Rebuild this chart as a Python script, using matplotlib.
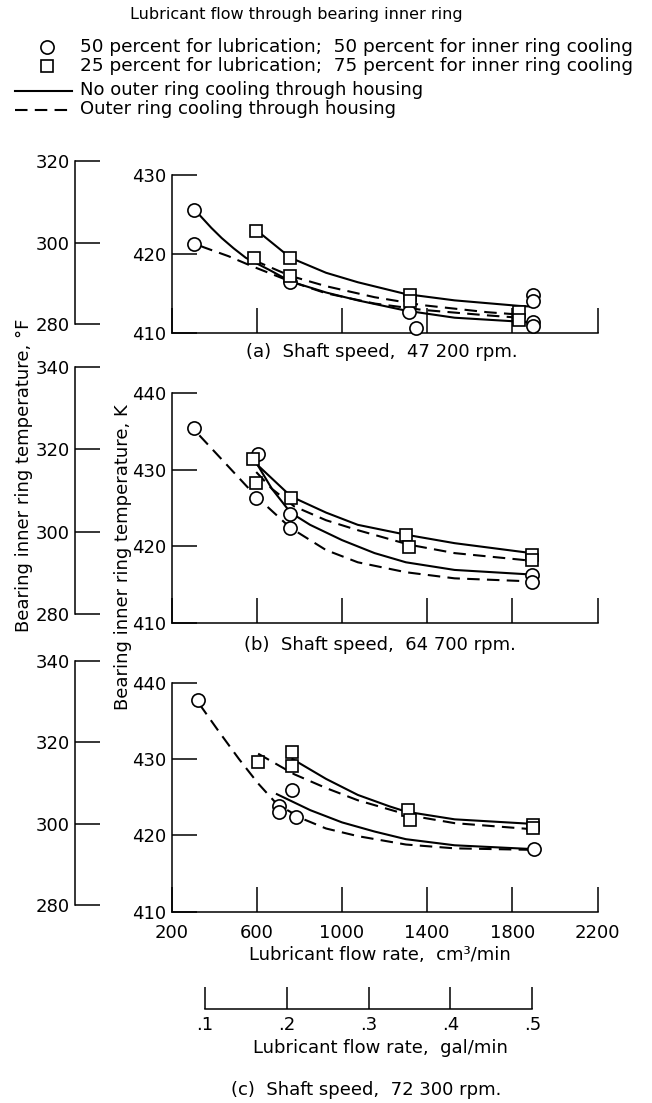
# Bearing inner ring temperature vs lubricant flow rate (3 shaft speeds)
import numpy as np
import matplotlib.pyplot as plt
from matplotlib.lines import Line2D

W, H = 652, 1103                      # 出力サイズ [px]
FONT = ['Liberation Sans Narrow', 'DejaVu Sans']
plt.rcParams['font.family'] = FONT

LW = 1.5                              # 曲線の太さ
DASH = (6, 3.5)
TXT = 13

# ---- (a) 47 200 rpm ----
A_CIRC_X = [305, 305, 758, 1313, 1348, 1897, 1897, 1897, 1897]
A_CIRC_Y = [425.5, 421.3, 416.4, 412.6, 410.6, 414.8, 414.0, 411.4, 410.8]
A_SQ_X = [597, 585, 758, 758, 1319, 1319, 1832, 1832]
A_SQ_Y = [422.9, 419.5, 419.5, 417.2, 414.8, 414.0, 412.6, 411.6]
A_CS_X = [335, 386, 435, 491, 548, 663, 758, 925, 1074, 1300, 1529, 1897]
A_CS_Y = [424.8, 423.3, 422.0, 420.7, 419.5, 417.9, 416.5, 415.1, 414.1, 412.8, 411.9, 411.3]
A_CD_X = [335, 354, 467, 580, 758, 925, 1153, 1376, 1682, 1832]
A_CD_Y = [421.0, 420.8, 419.7, 418.4, 416.5, 415.0, 413.7, 412.9, 412.2, 411.9]
A_SS_X = [612, 758, 925, 1074, 1300, 1529, 1832, 1897]
A_SS_Y = [422.7, 419.5, 417.6, 416.4, 414.9, 414.1, 413.4, 413.3]
A_SD_X = [585, 758, 925, 1153, 1376, 1682, 1832]
A_SD_Y = [419.2, 417.2, 415.9, 414.5, 413.5, 412.6, 412.3]

# ---- (b) 64 700 rpm ----
B_CIRC_X = [305, 604, 597, 758, 758, 1893, 1893]
B_CIRC_Y = [435.4, 432.0, 426.3, 424.2, 422.4, 416.3, 415.3]
B_SQ_X = [580, 597, 761, 1302, 1316, 1893, 1893]
B_SQ_Y = [431.4, 428.3, 426.3, 421.5, 419.9, 418.9, 418.2]
B_CD_X = [330, 467, 597, 758, 925, 1074, 1300, 1529, 1890]
B_CD_Y = [434.5, 430.4, 426.5, 422.4, 419.5, 417.9, 416.6, 415.8, 415.4]
B_CS_X = [604, 671, 758, 850, 1000, 1153, 1300, 1529, 1890]
B_CS_Y = [430.6, 427.5, 424.4, 422.8, 420.8, 419.1, 417.9, 416.9, 416.3]
B_SD_X = [597, 671, 776, 925, 1074, 1316, 1529, 1890]
B_SD_Y = [429.7, 427.5, 425.2, 423.4, 422.1, 420.2, 419.1, 418.1]
B_SS_X = [604, 761, 925, 1074, 1302, 1529, 1890]
B_SS_Y = [430.6, 426.5, 424.4, 422.8, 421.5, 420.4, 419.1]

# ---- (c) 72 300 rpm ----
C_CIRC_X = [325, 704, 704, 784, 764, 1902]
C_CIRC_Y = [437.7, 423.9, 423.0, 422.4, 426.0, 418.2]
C_SQ_X = [604, 764, 764, 1308, 1320, 1897, 1897]
C_SQ_Y = [429.6, 430.9, 429.1, 423.3, 422.0, 421.4, 421.0]
C_CD_X = [330, 419, 516, 606, 694, 812, 925, 1074, 1300, 1529, 1897]
C_CD_Y = [437.2, 433.7, 430.0, 426.8, 424.1, 422.2, 420.9, 419.9, 418.8, 418.3, 418.1]
C_CS_X = [694, 851, 1000, 1153, 1300, 1529, 1897]
C_CS_Y = [425.4, 423.3, 421.7, 420.5, 419.5, 418.7, 418.2]
C_SD_X = [606, 776, 925, 1074, 1320, 1529, 1897]
C_SD_Y = [430.7, 428.0, 426.2, 424.6, 422.6, 421.6, 420.8]
C_SS_X = [767, 925, 1074, 1223, 1302, 1529, 1897]
C_SS_Y = [430.0, 427.4, 425.3, 423.8, 423.1, 422.1, 421.5]

X_TICKS = [200, 600, 1000, 1400, 1800, 2200]
GAL_TICKS = [0.1, 0.2, 0.3, 0.4, 0.5]
GAL_LABELS = ['.1', '.2', '.3', '.4', '.5']


def rect(left, right, top, bottom):
    """ピクセル指定 -> figure 座標"""
    return [left / W, 1 - bottom / H, (right - left) / W, (bottom - top) / H]


def fx(px):
    return px / W


def fy(py):
    return 1 - py / H


def panel(fig, pos, ylim, yticks, circ, sq, curves, xlabels=False):
    ax = fig.add_axes(pos)
    ax.set_xlim(200, 2200)
    ax.set_ylim(*ylim)
    ax.set_xticks(X_TICKS)
    ax.set_yticks(yticks)
    if not xlabels:
        ax.set_xticklabels([])
    for s in ['top', 'right']:
        ax.spines[s].set_visible(False)
    for s in ['left', 'bottom']:
        ax.spines[s].set_linewidth(1.1)
    ax.tick_params(direction='in', length=18, width=1.1, labelsize=TXT, pad=4)
    ax.tick_params(axis='x', pad=9)
    ax.patch.set_visible(False)
    for (x, y, ls) in curves:
        ax.plot(x, y, color='black', lw=LW, ls=ls, zorder=2,
                **({'dashes': DASH} if ls == '--' else {}))
    ax.plot(circ[0], circ[1], 'o', ms=9.5, mfc='white', mec='black', mew=1.2,
            ls='none', zorder=3, clip_on=False)
    ax.plot(sq[0], sq[1], 's', ms=8.5, mfc='white', mec='black', mew=1.2,
            ls='none', zorder=3, clip_on=False)
    return ax


def f_axis(fig, top, bottom, lo, hi, ticks):
    ax = fig.add_axes(rect(75, 105, top, bottom))
    ax.set_ylim(lo, hi)
    ax.set_yticks(ticks)
    ax.set_xticks([])
    for s in ['top', 'right', 'bottom']:
        ax.spines[s].set_visible(False)
    ax.spines['left'].set_linewidth(1.1)
    ax.tick_params(direction='in', length=18, width=1.1, labelsize=TXT, pad=4)
    ax.patch.set_visible(False)


def main():
    fig = plt.figure(figsize=(W / 100, H / 100), dpi=100)

    panel(fig, rect(171.7, 597.5, 175, 332.7), (410, 430), [410, 420, 430],
          (A_CIRC_X, A_CIRC_Y), (A_SQ_X, A_SQ_Y),
          [(A_CS_X, A_CS_Y, '-'), (A_CD_X, A_CD_Y, '--'),
           (A_SS_X, A_SS_Y, '-'), (A_SD_X, A_SD_Y, '--')])
    panel(fig, rect(171.7, 597.5, 393.3, 622.7), (410, 440), [410, 420, 430, 440],
          (B_CIRC_X, B_CIRC_Y), (B_SQ_X, B_SQ_Y),
          [(B_CS_X, B_CS_Y, '-'), (B_CD_X, B_CD_Y, '--'),
           (B_SS_X, B_SS_Y, '-'), (B_SD_X, B_SD_Y, '--')])
    panel(fig, rect(171.7, 597.5, 682.7, 911.7), (410, 440), [410, 420, 430, 440],
          (C_CIRC_X, C_CIRC_Y), (C_SQ_X, C_SQ_Y),
          [(C_CS_X, C_CS_Y, '-'), (C_CD_X, C_CD_Y, '--'),
           (C_SS_X, C_SS_Y, '-'), (C_SD_X, C_SD_Y, '--')], xlabels=True)

    # 華氏目盛
    f_axis(fig, 161, 324.3, 280, 320, [280, 300, 320])
    f_axis(fig, 367, 614, 280, 340, [280, 300, 320, 340])
    f_axis(fig, 661, 905, 280, 340, [280, 300, 320, 340])

    # gal/min 目盛
    gx = fig.add_axes(rect(205, 532.3, 970, 1009))
    gx.set_xlim(0.1, 0.5)
    gx.set_xticks(GAL_TICKS)
    gx.set_xticklabels(GAL_LABELS)
    gx.set_yticks([])
    for s in ['top', 'right', 'left']:
        gx.spines[s].set_visible(False)
    gx.spines['bottom'].set_linewidth(1.1)
    gx.tick_params(direction='in', length=16, width=1.1, labelsize=TXT, pad=5)
    gx.patch.set_visible(False)

    # 凡例
    fig.text(fx(296), fy(15), 'Lubricant flow through bearing inner ring',
             ha='center', va='center', fontsize=11.5)
    fig.add_artist(Line2D([fx(47)], [fy(47)], marker='o', ms=9.5, mfc='white',
                          mec='black', mew=1.2, transform=fig.transFigure))
    fig.add_artist(Line2D([fx(47)], [fy(66)], marker='s', ms=8.5, mfc='white',
                          mec='black', mew=1.2, transform=fig.transFigure))
    fig.add_artist(Line2D([fx(15), fx(72)], [fy(91), fy(91)], color='black',
                          lw=LW, transform=fig.transFigure))
    fig.add_artist(Line2D([fx(15), fx(72)], [fy(110), fy(110)], color='black',
                          lw=LW, dashes=DASH, transform=fig.transFigure))
    fig.text(fx(80), fy(47), '50 percent for lubrication;  50 percent for inner ring cooling',
             ha='left', va='center', fontsize=13.3)
    fig.text(fx(80), fy(66), '25 percent for lubrication;  75 percent for inner ring cooling',
             ha='left', va='center', fontsize=13.3)
    fig.text(fx(80), fy(90), 'No outer ring cooling through housing',
             ha='left', va='center', fontsize=TXT)
    fig.text(fx(80), fy(109), 'Outer ring cooling through housing',
             ha='left', va='center', fontsize=TXT)

    # 軸ラベル・キャプション
    fig.text(fx(24), fy(475), 'Bearing inner ring temperature, °F', rotation=90,
             ha='center', va='center', fontsize=TXT)
    fig.text(fx(123), fy(557), 'Bearing inner ring temperature, K', rotation=90,
             ha='center', va='center', fontsize=TXT)
    fig.text(fx(382), fy(352), '(a)  Shaft speed,  47 200 rpm.',
             ha='center', va='center', fontsize=TXT)
    fig.text(fx(380), fy(645), '(b)  Shaft speed,  64 700 rpm.',
             ha='center', va='center', fontsize=TXT)
    fig.text(fx(380), fy(955), 'Lubricant flow rate,  cm³/min',
             ha='center', va='center', fontsize=TXT)
    fig.text(fx(380), fy(1048), 'Lubricant flow rate,  gal/min',
             ha='center', va='center', fontsize=TXT)
    fig.text(fx(366), fy(1090), '(c)  Shaft speed,  72 300 rpm.',
             ha='center', va='center', fontsize=TXT)

    fig.savefig('out.png', dpi=100)


if __name__ == "__main__":
    main()
